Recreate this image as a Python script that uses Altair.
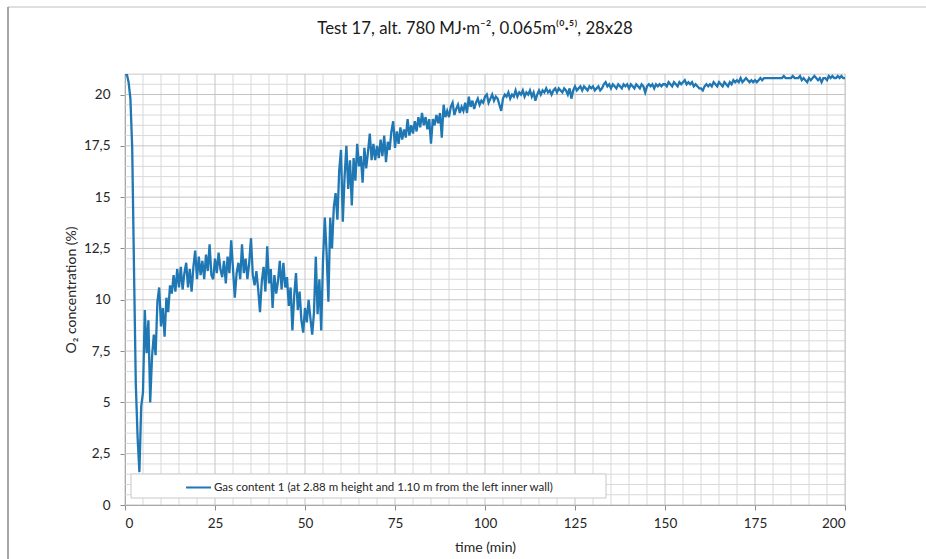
import altair as alt
import pandas as pd

o2 = [
    21.0, 21.0, 20.6, 19.8, 17.4, 11.5, 5.9, 3.3, 1.6, 4.8,          # 0 - 4.5
    5.5, 9.5, 7.4, 9.0, 5.0, 7.2, 8.3, 7.3, 9.9, 10.6,               # 5 - 9.5
    8.7, 9.6, 8.2, 10.1, 9.4, 10.7, 10.3, 11.2, 10.4, 11.5,          # 10
    10.6, 11.6, 10.5, 11.3, 11.8, 10.6, 11.5, 10.4, 11.6, 12.4,      # 15
    11.0, 12.1, 11.2, 11.9, 11.0, 12.2, 11.4, 12.7, 11.2, 11.0,      # 20
    12.0, 11.3, 12.3, 11.5, 11.1, 11.9, 10.8, 12.1, 11.3, 12.9,      # 25
    11.5, 10.1, 11.3, 11.8, 11.0, 12.7, 11.3, 12.0, 11.0, 11.8,      # 30
    13.0, 11.2, 10.7, 11.4, 10.5, 9.4, 10.9, 11.6, 10.4, 12.6,       # 35
    10.8, 11.5, 9.6, 11.2, 10.3, 10.9, 11.9, 10.5, 11.8, 10.6,       # 40
    11.1, 9.7, 10.6, 8.5, 10.2, 11.3, 9.5, 10.4, 9.0, 8.4,           # 45
    9.6, 8.9, 10.0, 9.1, 8.3, 9.4, 12.1, 9.3, 11.0, 8.5,             # 50
    11.9, 14.0, 12.3, 9.9, 14.0, 12.5, 14.5, 15.2, 13.9, 16.3,       # 55
    17.3, 13.8, 16.0, 17.5, 15.4, 16.8, 14.6, 16.9, 15.8, 17.6,      # 60
    16.5, 17.0, 15.7, 17.4, 16.4, 17.2, 18.1, 16.8, 17.6, 16.8,      # 65
    17.5, 16.9, 17.8, 17.0, 18.0, 16.7, 17.7, 17.3, 18.2, 18.7,      # 70
    17.4, 18.2, 17.6, 18.4, 17.8, 18.3, 17.9, 18.8, 18.0, 18.5,      # 75
    18.1, 18.7, 18.2, 18.9, 18.4, 19.1, 18.5, 18.9, 18.3, 18.8,      # 80
    17.6, 18.8, 18.5, 19.0, 18.6, 19.1, 17.9, 19.5, 18.9, 19.2,      # 85
    18.9, 19.4, 19.6, 19.0, 19.3, 19.5, 19.1, 19.4, 19.2, 19.6,      # 90
    19.1, 19.9, 19.4, 19.7, 19.3, 19.6, 19.8, 19.5, 19.7, 19.6,      # 95
    19.9, 20.0, 19.6, 19.8, 20.0, 19.7, 19.9, 19.8, 19.5, 19.2,      # 100
    19.8, 20.0, 19.9, 20.1, 19.8, 20.0, 19.9, 20.2, 19.9, 20.1,      # 105
    20.0, 20.2, 19.9, 20.1, 20.0, 20.2, 19.9, 20.1, 19.7, 20.0,      # 110
    20.2, 20.0, 20.2, 20.1, 20.3, 20.1, 20.2, 20.0, 20.2, 20.3,      # 115
    20.1, 20.3, 20.2, 20.1, 20.3, 20.2, 20.0, 20.3, 19.8, 20.2,      # 120
    20.4, 20.2, 20.3, 20.4, 20.2, 20.4, 20.3, 20.2, 20.4, 20.3,      # 125
    20.4, 20.2, 20.3, 20.4, 20.2, 20.3, 20.5, 20.6, 20.4, 20.5,      # 130
    20.3, 20.5, 20.4, 20.3, 20.5, 20.4, 20.3, 20.5, 20.4, 20.5,      # 135
    20.3, 20.5, 20.4, 20.3, 20.5, 20.4, 20.3, 20.5, 20.4, 20.1,      # 140
    20.4, 20.5, 20.4, 20.5, 20.3, 20.5, 20.4, 20.5, 20.4, 20.5,      # 145
    20.5, 20.4, 20.6, 20.5, 20.4, 20.6, 20.5, 20.4, 20.6, 20.5,      # 150
    20.6, 20.7, 20.5, 20.6, 20.5, 20.6, 20.4, 20.5, 20.4, 20.3,      # 155
    20.3, 20.2, 20.4, 20.5, 20.4, 20.5, 20.4, 20.6, 20.5, 20.4,      # 160
    20.6, 20.5, 20.4, 20.6, 20.5, 20.4, 20.6, 20.5, 20.7, 20.6,      # 165
    20.7, 20.6, 20.8, 20.6, 20.7, 20.8, 20.7, 20.6, 20.7, 20.6,      # 170
    20.7, 20.6, 20.7, 20.8, 20.7, 20.8, 20.8, 20.8, 20.8, 20.8,      # 175
    20.8, 20.8, 20.8, 20.8, 20.8, 20.8, 20.9, 20.8, 20.8, 20.8,      # 180
    20.8, 20.9, 20.8, 20.8, 20.8, 20.9, 20.7, 20.8, 20.7, 20.6,      # 185
    20.8, 20.7, 20.8, 20.9, 20.8, 20.7, 20.8, 20.6, 20.8, 20.8,      # 190
    20.7, 20.9, 20.8, 20.9, 20.8, 20.8, 20.9, 20.8, 20.9, 20.8,      # 195
    20.8,                                                            # 200
]
times = [i * 0.5 for i in range(len(o2))]

series_name = "Gas content 1 (at 2.88 m height and 1.10 m from the left inner wall)"
title_text = "Test 17, alt. 780 MJ\u00b7m\u207b\u00b2, 0.065m\u207d\u2070\u00b7\u2075\u207e, 28x28"

x_major = [0, 25, 50, 75, 100, 125, 150, 175, 200]
x_minor = [v for v in range(0, 201, 5) if v % 25 != 0]
y_major = [0, 2.5, 5, 7.5, 10, 12.5, 15, 17.5, 20]
y_minor = [i * 0.5 for i in range(0, 43) if i % 5 != 0]

FONT = "Lato"
W, H = 720, 431

df = pd.DataFrame({"t": times, "o2": o2, "series": series_name})

xscale = alt.Scale(domain=[0, 200], nice=False, zero=False)
yscale = alt.Scale(domain=[0, 21], nice=False, zero=False)

x_axis = alt.Axis(values=x_major, grid=False, domainColor="#8c8c8c", tickColor="#8c8c8c",
                  tickSize=5, labelPadding=6, labelFont=FONT, labelFontSize=13.5,
                  labelColor="#262626", title="time (min)", titleFont=FONT,
                  titleFontSize=14, titleFontWeight="normal", titleColor="#262626",
                  titleY=42, titleBaseline="middle")
y_axis = alt.Axis(values=y_major, grid=False, domainColor="#8c8c8c", tickColor="#8c8c8c",
                  tickSize=5, labelPadding=10, labelFont=FONT, labelFontSize=13.5,
                  labelColor="#262626",
                  labelExpr="replace(toString(datum.value), '.', ',')",
                  title="O\u2082 concentration (%)", titleFont=FONT, titleFontSize=14,
                  titleFontWeight="normal", titleColor="#262626",
                  titleX=-54, titleY=H / 2, titleAngle=-90, titleAlign="center",
                  titleBaseline="middle")

minor_col = "#d9d9d9"
major_col = "#c4c4c4"

vminor = alt.Chart(pd.DataFrame({"x": x_minor})).mark_rule(color=minor_col, strokeWidth=1).encode(
    x=alt.X("x:Q", scale=xscale, axis=x_axis))
hminor = alt.Chart(pd.DataFrame({"y": y_minor})).mark_rule(color=minor_col, strokeWidth=1).encode(
    y=alt.Y("y:Q", scale=yscale, axis=y_axis))
vmajor = alt.Chart(pd.DataFrame({"x": x_major})).mark_rule(color=major_col, strokeWidth=1).encode(
    x=alt.X("x:Q", scale=xscale, axis=x_axis))
hmajor = alt.Chart(pd.DataFrame({"y": y_major})).mark_rule(color=major_col, strokeWidth=1).encode(
    y=alt.Y("y:Q", scale=yscale, axis=y_axis))

legend_box = alt.Chart(alt.Data(values=[{}])).mark_rect(
    fill="white", stroke="#c8c8c8", strokeWidth=1).encode(
    x=alt.value(6), x2=alt.value(481), y=alt.value(400), y2=alt.value(424))

line = alt.Chart(df).mark_line(strokeWidth=2.3, clip=True).encode(
    x=alt.X("t:Q", scale=xscale, axis=x_axis),
    y=alt.Y("o2:Q", scale=yscale, axis=y_axis),
    color=alt.Color("series:N", scale=alt.Scale(range=["#1f77b4"]),
                    legend=alt.Legend(title=None, orient="none", legendX=60, legendY=400,
                                      symbolType="stroke", symbolSize=625, symbolStrokeWidth=2,
                                      labelFont=FONT, labelFontSize=11.5, labelColor="#262626",
                                      labelOffset=2, labelLimit=0, padding=0)),
)

top_border = alt.Chart(alt.Data(values=[{}])).mark_rule(color="#d4d4d4", strokeWidth=1.5).encode(
    x=alt.value(-117), x2=alt.value(801), y=alt.value(-67))
left_border = alt.Chart(alt.Data(values=[{}])).mark_rule(color="#8a8a8a", strokeWidth=1.5).encode(
    x=alt.value(-117), y=alt.value(-67), y2=alt.value(485))

chart = alt.layer(vminor, hminor, vmajor, hmajor, legend_box, line, top_border, left_border).properties(
    width=W, height=H,
    title=alt.TitleParams(text=title_text, anchor="middle", frame="group", dx=-10, offset=0, dy=45,
                          baseline="alphabetic",
                          font=FONT, fontSize=16.8, fontWeight="normal", color="#1a1a1a"),
    autosize=alt.AutoSizeParams(type="none"),
    padding={"left": 125, "top": 74, "right": 81, "bottom": 54},
).configure_view(stroke=None).configure(background="white")

chart.save("out.html", embed_options={"renderer": "svg", "actions": False})
